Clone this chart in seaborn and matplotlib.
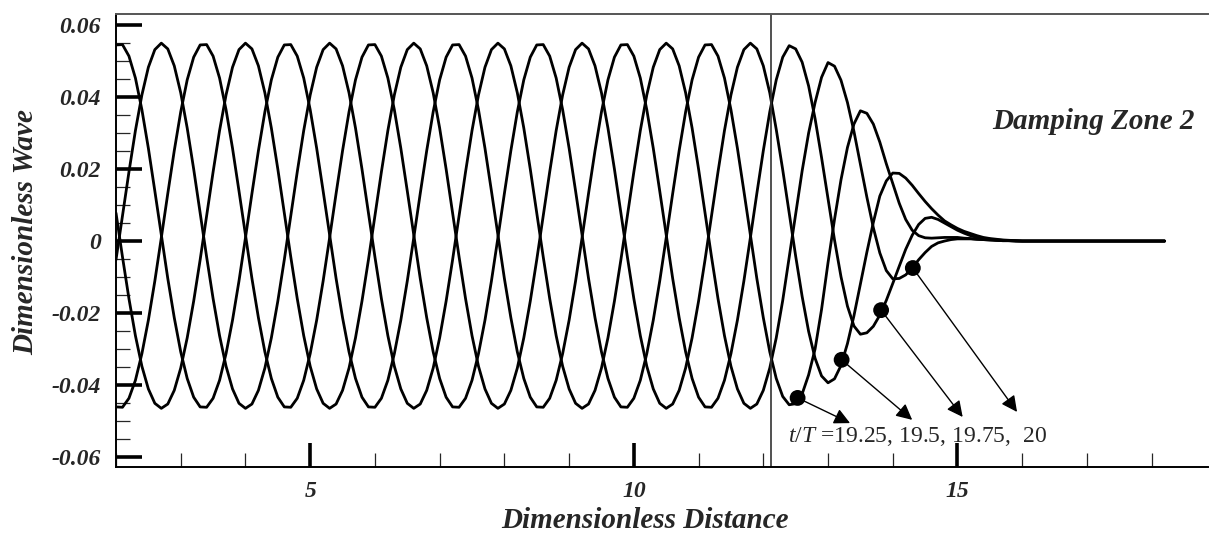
import numpy as np
import pandas as pd
import seaborn as sns
import matplotlib.pyplot as plt
from matplotlib.ticker import MultipleLocator, FuncFormatter

# sample positions along the flume (step 0.1)
distance = np.round(np.arange(2.0, 18.2001, 0.1), 2)

# wave profiles, one list per time level
wave_1925 = [
    -0.0461, -0.0462, -0.0437, -0.0387, -0.0313, -0.0220, -0.0111, 0.0009, 0.0132, 0.0251, 0.0359, 0.0448, 0.0511,
    0.0545, 0.0546, 0.0514, 0.0453, 0.0365, 0.0258, 0.0139, 0.0017, -0.0104, -0.0213, -0.0308, -0.0382, -0.0434,
    -0.0461, -0.0462, -0.0437, -0.0387, -0.0313, -0.0220, -0.0111, 0.0009, 0.0132, 0.0251, 0.0359, 0.0448, 0.0511,
    0.0545, 0.0546, 0.0514, 0.0453, 0.0365, 0.0258, 0.0139, 0.0017, -0.0104, -0.0213, -0.0308, -0.0382, -0.0434,
    -0.0461, -0.0462, -0.0437, -0.0387, -0.0313, -0.0220, -0.0111, 0.0009, 0.0132, 0.0251, 0.0359, 0.0448, 0.0511,
    0.0545, 0.0546, 0.0514, 0.0453, 0.0365, 0.0258, 0.0139, 0.0017, -0.0104, -0.0213, -0.0308, -0.0382, -0.0434,
    -0.0461, -0.0462, -0.0437, -0.0387, -0.0313, -0.0220, -0.0111, 0.0009, 0.0132, 0.0251, 0.0359, 0.0448, 0.0511,
    0.0545, 0.0546, 0.0514, 0.0453, 0.0365, 0.0258, 0.0139, 0.0017, -0.0104, -0.0213, -0.0308,
    -0.0382, -0.0432, -0.0455, -0.0452, -0.0425, -0.0372, -0.0300, -0.0190, -0.0060, 0.0060,
    0.0170, 0.0260, 0.0325, 0.0362, 0.0355, 0.0325, 0.0275, 0.0215, 0.0160, 0.0105,
    0.0060, 0.0030, 0.0015, 0.0009, 0.0008, 0.0009, 0.0010, 0.0010, 0.0010, 0.0008,
    0.0007, 0.0005, 0.0004, 0.0003, 0.0002, 0.0001, 0.0001, 0.0, 0.0,
    0.0, 0.0, 0.0, 0.0, 0.0, 0.0, 0.0, 0.0, 0.0, 0.0, 0.0,
    0.0, 0.0, 0.0, 0.0, 0.0, 0.0, 0.0, 0.0, 0.0, 0.0, 0.0,
]
wave_195 = [
    0.0078, -0.0044, -0.0160, -0.0263, -0.0348, -0.0411, -0.0451, -0.0465, -0.0453, -0.0415, -0.0353, -0.0269, -0.0167,
    -0.0052, 0.0070, 0.0192, 0.0307, 0.0406, 0.0483, 0.0532, 0.0550, 0.0534, 0.0487, 0.0412, 0.0314, 0.0200,
    0.0078, -0.0044, -0.0160, -0.0263, -0.0348, -0.0411, -0.0451, -0.0465, -0.0453, -0.0415, -0.0353, -0.0269, -0.0167,
    -0.0052, 0.0070, 0.0192, 0.0307, 0.0406, 0.0483, 0.0532, 0.0550, 0.0534, 0.0487, 0.0412, 0.0314, 0.0200,
    0.0078, -0.0044, -0.0160, -0.0263, -0.0348, -0.0411, -0.0451, -0.0465, -0.0453, -0.0415, -0.0353, -0.0269, -0.0167,
    -0.0052, 0.0070, 0.0192, 0.0307, 0.0406, 0.0483, 0.0532, 0.0550, 0.0534, 0.0487, 0.0412, 0.0314, 0.0200,
    0.0078, -0.0044, -0.0160, -0.0263, -0.0348, -0.0411, -0.0451, -0.0465, -0.0453, -0.0415, -0.0353, -0.0269, -0.0167,
    -0.0052, 0.0070, 0.0192, 0.0307, 0.0406, 0.0483, 0.0532, 0.0550, 0.0534, 0.0487, 0.0412,
    0.0310, 0.0198, 0.0078, -0.0042, -0.0154, -0.0251, -0.0326, -0.0375, -0.0394, -0.0383,
    -0.0346, -0.0285, -0.0208, -0.0120, -0.0031, 0.0052, 0.0125, 0.0167, 0.0189, 0.0188,
    0.0175, 0.0155, 0.0132, 0.0110, 0.0090, 0.0072, 0.0056, 0.0045, 0.0035, 0.0027,
    0.0021, 0.0015, 0.0010, 0.0007, 0.0005, 0.0003, 0.0002, 0.0001, 0.0,
    0.0, 0.0, 0.0, 0.0, 0.0, 0.0, 0.0, 0.0, 0.0, 0.0, 0.0,
    0.0, 0.0, 0.0, 0.0, 0.0, 0.0, 0.0, 0.0, 0.0, 0.0, 0.0,
]
wave_1975 = [
    0.0545, 0.0546, 0.0514, 0.0453, 0.0365, 0.0258, 0.0139, 0.0017, -0.0104, -0.0213, -0.0308, -0.0382, -0.0434,
    -0.0461, -0.0462, -0.0437, -0.0387, -0.0313, -0.0220, -0.0111, 0.0009, 0.0132, 0.0251, 0.0359, 0.0448, 0.0511,
    0.0545, 0.0546, 0.0514, 0.0453, 0.0365, 0.0258, 0.0139, 0.0017, -0.0104, -0.0213, -0.0308, -0.0382, -0.0434,
    -0.0461, -0.0462, -0.0437, -0.0387, -0.0313, -0.0220, -0.0111, 0.0009, 0.0132, 0.0251, 0.0359, 0.0448, 0.0511,
    0.0545, 0.0546, 0.0514, 0.0453, 0.0365, 0.0258, 0.0139, 0.0017, -0.0104, -0.0213, -0.0308, -0.0382, -0.0434,
    -0.0461, -0.0462, -0.0437, -0.0387, -0.0313, -0.0220, -0.0111, 0.0009, 0.0132, 0.0251, 0.0359, 0.0448, 0.0511,
    0.0545, 0.0546, 0.0514, 0.0453, 0.0365, 0.0258, 0.0139, 0.0017, -0.0104, -0.0213, -0.0308, -0.0382, -0.0434,
    -0.0461, -0.0462, -0.0437, -0.0387, -0.0313, -0.0220, -0.0111, 0.0009, 0.0132, 0.0251, 0.0359,
    0.0448, 0.0511, 0.0543, 0.0534, 0.0497, 0.0431, 0.0340, 0.0232, 0.0117, 0.0003,
    -0.0099, -0.0181, -0.0236, -0.0259, -0.0255, -0.0237, -0.0206, -0.0165, -0.0118, -0.0070,
    -0.0023, 0.0016, 0.0046, 0.0063, 0.0066, 0.0060, 0.0050, 0.0040, 0.0030, 0.0022,
    0.0015, 0.0010, 0.0007, 0.0005, 0.0003, 0.0002, 0.0001, 0.0001, 0.0,
    0.0, 0.0, 0.0, 0.0, 0.0, 0.0, 0.0, 0.0, 0.0, 0.0, 0.0,
    0.0, 0.0, 0.0, 0.0, 0.0, 0.0, 0.0, 0.0, 0.0, 0.0, 0.0,
]
wave_20 = [
    -0.0052, 0.0070, 0.0192, 0.0307, 0.0406, 0.0483, 0.0532, 0.0550, 0.0534, 0.0487, 0.0412, 0.0314, 0.0200,
    0.0078, -0.0044, -0.0160, -0.0263, -0.0348, -0.0411, -0.0451, -0.0465, -0.0453, -0.0415, -0.0353, -0.0269, -0.0167,
    -0.0052, 0.0070, 0.0192, 0.0307, 0.0406, 0.0483, 0.0532, 0.0550, 0.0534, 0.0487, 0.0412, 0.0314, 0.0200,
    0.0078, -0.0044, -0.0160, -0.0263, -0.0348, -0.0411, -0.0451, -0.0465, -0.0453, -0.0415, -0.0353, -0.0269, -0.0167,
    -0.0052, 0.0070, 0.0192, 0.0307, 0.0406, 0.0483, 0.0532, 0.0550, 0.0534, 0.0487, 0.0412, 0.0314, 0.0200,
    0.0078, -0.0044, -0.0160, -0.0263, -0.0348, -0.0411, -0.0451, -0.0465, -0.0453, -0.0415, -0.0353, -0.0269, -0.0167,
    -0.0052, 0.0070, 0.0192, 0.0307, 0.0406, 0.0483, 0.0532, 0.0550, 0.0534, 0.0487, 0.0412, 0.0314, 0.0200,
    0.0078, -0.0044, -0.0160, -0.0263, -0.0348, -0.0411, -0.0451, -0.0465, -0.0453, -0.0415, -0.0353,
    -0.0269, -0.0165, -0.0045, 0.0075, 0.0195, 0.0300, 0.0385, 0.0455, 0.0496, 0.0486,
    0.0447, 0.0385, 0.0305, 0.0214, 0.0122, 0.0037, -0.0033, -0.0082, -0.0105, -0.0104,
    -0.0094, -0.0075, -0.0052, -0.0032, -0.0015, -0.0005, 0.0000, 0.0004, 0.0006, 0.0006,
    0.0006, 0.0005, 0.0004, 0.0003, 0.0002, 0.0001, 0.0001, 0.0, 0.0,
    0.0, 0.0, 0.0, 0.0, 0.0, 0.0, 0.0, 0.0, 0.0, 0.0, 0.0,
    0.0, 0.0, 0.0, 0.0, 0.0, 0.0, 0.0, 0.0, 0.0, 0.0, 0.0,
]

time_labels = ["19.25", "19.5", "19.75", "20"]

# marked points on each curve and where their arrows point
marker_x = [12.53, 13.21, 13.82, 14.31]
marker_y = [-0.0436, -0.0330, -0.0192, -0.0075]
arrow_tip_x = [13.34, 14.30, 15.08, 15.92]
arrow_tip_y = [-0.0506, -0.0497, -0.0489, -0.0475]

damping_start = 12.12

sns.set_style("ticks")
plt.rcParams["font.family"] = ["Liberation Serif", "DejaVu Serif"]
plt.rcParams["mathtext.fontset"] = "custom"
plt.rcParams["mathtext.rm"] = "Liberation Serif"
plt.rcParams["mathtext.it"] = "Liberation Serif:italic"

df = pd.concat(
    [
        pd.DataFrame({"distance": distance, "wave": vals, "tT": lab})
        for vals, lab in zip([wave_1925, wave_195, wave_1975, wave_20], time_labels)
    ],
    ignore_index=True,
)

fig = plt.figure(figsize=(12.1, 5.33), dpi=100)
ax = fig.add_axes([116 / 1210, 66 / 533, 1092 / 1210, 453 / 533])

sns.lineplot(
    data=df, x="distance", y="wave", hue="tT", palette=["black"] * 4,
    estimator=None, sort=False, legend=False, linewidth=2.0, ax=ax,
)
for line in ax.lines:
    line.set_solid_joinstyle("round")

ax.axvline(damping_start, color="#333333", linewidth=1.2)

sns.scatterplot(x=marker_x, y=marker_y, color="black", s=130, edgecolor="none", ax=ax, zorder=5)
for mx, my, tx, ty in zip(marker_x, marker_y, arrow_tip_x, arrow_tip_y):
    ax.annotate(
        "", xy=(tx, ty), xytext=(mx, my),
        arrowprops=dict(arrowstyle="-|>", color="black", lw=1.0,
                        mutation_scale=24, shrinkA=0, shrinkB=0),
    )

ax.text(12.38, -0.0558, r"$t/T$ =" + ", ".join(time_labels[:3]) + ",  " + time_labels[3],
        fontsize=17, ha="left", va="baseline")
ax.text(18.67, 0.0331, "Damping Zone 2", fontsize=21, fontweight="bold",
        fontstyle="italic", ha="right", va="center")

ax.set_xlim(2.0, 18.87)
ax.set_ylim(-0.0628, 0.0631)

ax.xaxis.set_major_locator(MultipleLocator(5))
ax.xaxis.set_minor_locator(MultipleLocator(1))
ax.yaxis.set_major_locator(MultipleLocator(0.02))
ax.yaxis.set_minor_locator(MultipleLocator(0.005))
ax.yaxis.set_major_formatter(FuncFormatter(lambda v, p: "0" if abs(v) < 1e-9 else f"{v:.2f}"))

ax.tick_params(axis="both", which="major", direction="in", color="black")
ax.tick_params(axis="x", which="major", length=17, width=2.6, pad=10)
ax.tick_params(axis="y", which="major", length=19, width=2.6, pad=11)
ax.tick_params(axis="both", which="minor", direction="in", length=10, width=0.9)
for lab in ax.get_xticklabels() + ax.get_yticklabels():
    lab.set_fontweight("bold")
    lab.set_fontstyle("italic")
    lab.set_fontsize(17)

ax.set_xlabel("Dimensionless Distance", fontsize=21, fontweight="bold", fontstyle="italic")
ax.set_ylabel("Dimensionless Wave", fontsize=21, fontweight="bold", fontstyle="italic")
ax.xaxis.label.set_verticalalignment("baseline")
ax.yaxis.label.set_verticalalignment("baseline")
ax.xaxis.set_label_coords((645 - 116) / 1092, -0.135)
ax.yaxis.set_label_coords((33 - 116) / 1092, 0.519)

for side in ["left", "bottom"]:
    ax.spines[side].set_color("black")
    ax.spines[side].set_linewidth(1.4)
ax.spines["top"].set_color("#555555")
ax.spines["top"].set_linewidth(1.4)
ax.spines["right"].set_visible(False)

fig.savefig("out.png", dpi=100, facecolor="white")
